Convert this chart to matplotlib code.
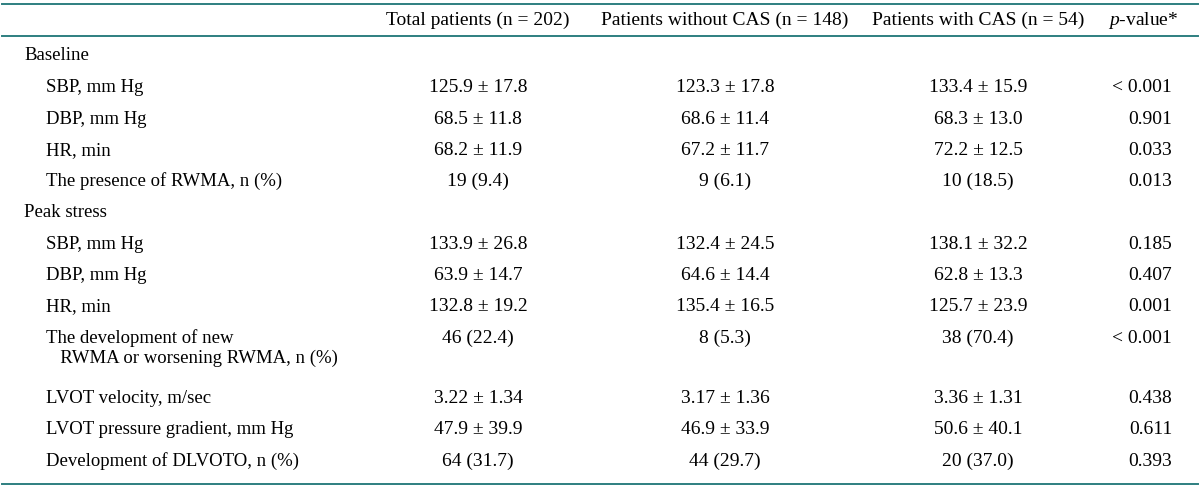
import matplotlib
matplotlib.use("Agg")
import matplotlib.pyplot as plt

# table content
headers = ["Total patients (n = 202)", "Patients without CAS (n = 148)",
           "Patients with CAS (n = 54)", "$\\it{p}$-value*"]

row_labels = ["Baseline", "SBP, mm Hg", "DBP, mm Hg", "HR, min",
              "The presence of RWMA, n (%)", "Peak stress", "SBP, mm Hg",
              "DBP, mm Hg", "HR, min",
              "The development of new\n   RWMA or worsening RWMA, n (%)",
              "LVOT velocity, m/sec", "LVOT pressure gradient, mm Hg",
              "Development of DLVOTO, n (%)"]
is_section = [True, False, False, False, False, True, False, False, False,
              False, False, False, False]

total = ["", "125.9 ± 17.8", "68.5 ± 11.8", "68.2 ± 11.9", "19 (9.4)", "",
         "133.9 ± 26.8", "63.9 ± 14.7", "132.8 ± 19.2", "46 (22.4)",
         "3.22 ± 1.34", "47.9 ± 39.9", "64 (31.7)"]
without_cas = ["", "123.3 ± 17.8", "68.6 ± 11.4", "67.2 ± 11.7", "9 (6.1)", "",
               "132.4 ± 24.5", "64.6 ± 14.4", "135.4 ± 16.5", "8 (5.3)",
               "3.17 ± 1.36", "46.9 ± 33.9", "44 (29.7)"]
with_cas = ["", "133.4 ± 15.9", "68.3 ± 13.0", "72.2 ± 12.5", "10 (18.5)", "",
            "138.1 ± 32.2", "62.8 ± 13.3", "125.7 ± 23.9", "38 (70.4)",
            "3.36 ± 1.31", "50.6 ± 40.1", "20 (37.0)"]
p_values = ["", "< 0.001", "0.901", "0.033", "0.013", "", "0.185", "0.407",
            "0.001", "< 0.001", "0.438", "0.611", "0.393"]

row_y = [55, 87, 119, 150, 181, 212, 244, 275, 306, 338, 398, 429, 461]

plt.rcParams['font.family'] = ['Liberation Serif', 'DejaVu Serif']
plt.rcParams['mathtext.fontset'] = 'custom'
plt.rcParams['mathtext.it'] = 'Liberation Serif:italic'
plt.rcParams['mathtext.rm'] = 'Liberation Serif'

fig = plt.figure(figsize=(12, 4.88), dpi=100)
ax = fig.add_axes([0, 0, 1, 1])
ax.set_xlim(0, 1200)
ax.set_ylim(488, 0)
ax.axis('off')

fs = 13.5
fs_num = 14
line_color = '#2e7f80'
for y in [4, 36, 484]:
    ax.plot([2, 1198], [y, y], color=line_color, lw=1.4)

col_x = [478, 725, 978]
for x, h in zip(col_x, headers[:3]):
    ax.text(x, 25, h, ha='center', va='baseline', fontsize=14)
ax.text(1143, 25, headers[3], ha='center', va='baseline', fontsize=14)

for i, lab in enumerate(row_labels):
    b = row_y[i] + 5
    x = 24 if is_section[i] else 46
    ax.text(x, b, lab.split('\n')[0], ha='left', va='baseline', fontsize=fs)
    if '\n' in lab:
        ax.text(x, b + 20, lab.split('\n')[1], ha='left', va='baseline', fontsize=fs)
    for cx, col in zip(col_x, [total, without_cas, with_cas]):
        ax.text(cx, b, col[i], ha='center', va='baseline', fontsize=fs_num)
    ax.text(1172, b, p_values[i], ha='right', va='baseline', fontsize=fs_num)

fig.savefig('out.png', dpi=100)
